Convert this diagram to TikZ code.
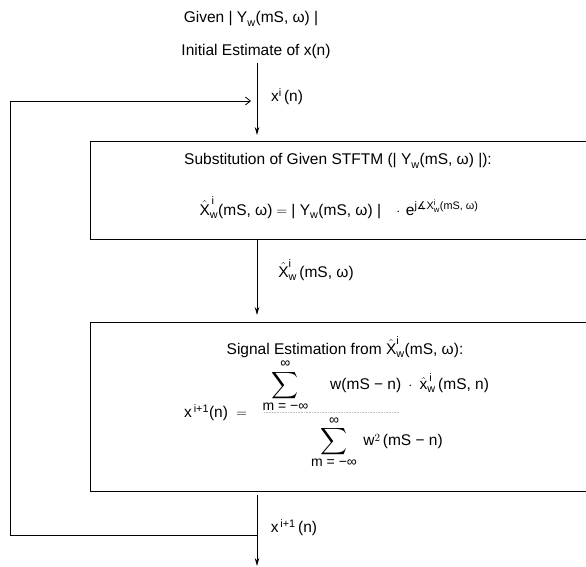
\documentclass[tikz,border=0pt]{standalone}
\usepackage{fontspec}
\usepackage{amsmath}
\setmainfont{Liberation Sans}
\newfontfamily\symfam{DejaVu Sans}
\usetikzlibrary{positioning,arrows.meta,calc}
\newcommand{\bigsum}{\mathop{\vcenter{\hbox{\scalebox{1.3}{$\displaystyle\sum$}}}}\limits}
\newcommand{\limtxt}[1]{\mbox{\fontsize{14}{16}\selectfont #1}}

\begin{document}
\begin{tikzpicture}[
        x=1pt, y=-1pt,
        every node/.style={font=\fontsize{15.5}{18}\selectfont, inner sep=0pt},
        stagebox/.style={draw, line width=1pt, anchor=north west, minimum width=520pt},
        lbl/.style={anchor=center},
        flowline/.style={line width=0.8pt},
        arrow/.style={flowline, -{Stealth[length=8pt, width=4.5pt]}},
        feedarrow/.style={flowline, -{Straight Barb[length=5pt, width=8pt]}}
    ]
        \useasboundingbox (0,0) rectangle (586,567);

        % Inputs at the top
        \node[lbl] (given) at (251,19) {Given $\text{| Y}_{\text{w}}\text{(mS, ω) |}$};
        \node[lbl] (init) at (256,51) {Initial Estimate of x(n)};

        % Boxes (right side runs off the page)
        \begin{scope}
            \clip (0,0) rectangle (586,567);
            \node[stagebox, minimum height=98pt] (subst) at (90,141) {};
            \node[stagebox, minimum height=169pt] (sigest) at (90,322) {};
        \end{scope}

        % Box 1: substitution
        \node[lbl] (substtitle) at (338,161) {Substitution of Given STFTM ($\text{| Y}_{\text{w}}\text{(mS, ω) |}$):};
        \node[lbl] (substeq) at (339,208) {$\hat{\text{X}}_{\text{w}}^{\,\text{i}}\text{(mS, ω)} = \text{| Y}_{\text{w}}\text{(mS, ω) |}\;\;\;\cdot\,\text{e}^{\text{j{\symfam ∡}X}_{\text{w}}^{\text{i}}\text{(mS, ω)}}$};

        % Box 2: signal estimation
        \node[lbl] (sigtitle) at (345,347) {Signal Estimation from $\hat{\text{X}}_{\text{w}}^{\text{i}}\text{(mS, ω)}$:};
        \node[anchor=west] (sigeq) at (184,414) {$\text{x}^{\,\text{i+1}}\text{(n)} \;=\;\;\, \genfrac{}{}{0pt}{0}{\bigsum_{\limtxt{m = −∞}}^{\limtxt{∞}}\quad\; \text{w(mS − n)} \;\cdot\; \hat{\text{x}}_{\text{w}}^{\,\text{i}}\,\text{(mS, n)}}{\rule{0pt}{14pt}\bigsum_{\limtxt{m = −∞}}^{\limtxt{∞}}\; \text{w}^{2}\,\text{(mS − n)}}$};

        % Connector coordinates
        \coordinate (a1start) at (257,63);
        \coordinate (a1end) at (257,135);
        \coordinate (a2start) at (257,240);
        \coordinate (a2end) at (257,315);
        \coordinate (a3start) at (257,495);
        \coordinate (a3end) at (257,566);
        \coordinate (loopjoin) at (257,535);
        \coordinate (loopbl) at (10,535);
        \coordinate (looptl) at (10,101);
        \coordinate (loopend) at (251,101);
        \coordinate (barl) at (264,412);
        \coordinate (barr) at (400,412);

        % Faint fraction bar
        \draw[gray!50, densely dotted, line width=0.6pt] (barl) -- (barr);

        % Main flow
        \draw[arrow] (a1start) -- (a1end);
        \draw[arrow] (a2start) -- (a2end);
        \draw[arrow] (a3start) -- (a3end);

        % Feedback loop
        \draw[feedarrow] (loopjoin) -- (loopbl) -- (looptl) -- (loopend);

        % Connector labels
        \node[lbl] (xilbl) at (287,97) {$\text{x}^{\text{i}}\,\text{(n)}$};
        \node[lbl] (xhatlbl) at (316,270) {$\hat{\text{X}}_{\text{w}}^{\text{i}}\,\text{(mS, ω)}$};
        \node[lbl] (xnextlbl) at (294,528) {$\text{x}^{\,\text{i+1}}\,\text{(n)}$};

    \end{tikzpicture}
\end{document}
